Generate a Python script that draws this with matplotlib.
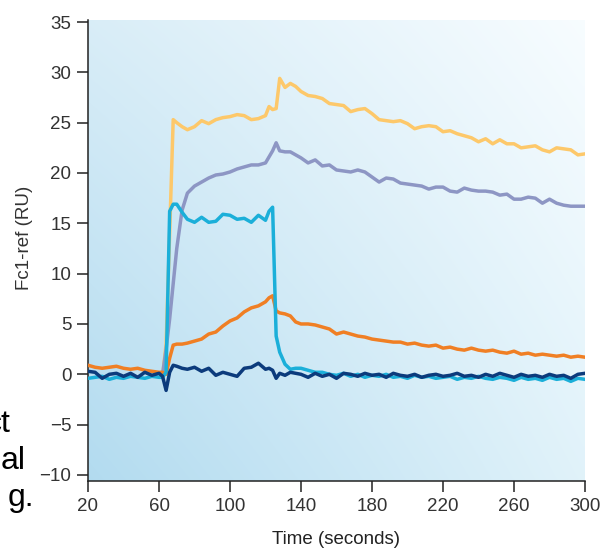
import numpy as np
import matplotlib.pyplot as plt

# time axis (seconds), shared by all curves
time_s = [20, 24, 28, 32, 36, 40, 44, 48, 52, 56, 60,
          62, 64, 66, 68, 70, 73, 76,
          80, 84, 88, 92, 96, 100, 104, 108, 112, 116, 120,
          122, 124, 126, 128, 131, 134, 137,
          140, 144, 148, 152, 156, 160, 164, 168, 172, 176,
          180, 184, 188, 192, 196, 200, 204, 208, 212, 216,
          220, 224, 228, 232, 236, 240, 244, 248, 252, 256,
          260, 264, 268, 272, 276, 280, 284, 288, 292, 296,
          300]

nan = np.nan
yellow_ru = [nan] * 11 + [
    -0.2, 3.0, 14.0, 25.3, 25.0, 24.6, 24.3,
    24.6, 25.2, 24.9, 25.3, 25.5, 25.6, 25.8, 25.7, 25.3, 25.4, 25.7,
    26.6, 26.3, 26.4, 29.4, 28.5, 28.9, 28.6,
    28.1, 27.7, 27.6, 27.4, 26.9, 26.8, 26.7, 26.1, 26.3, 26.4,
    25.9, 25.3, 25.2, 25.1, 25.2, 24.9, 24.4, 24.6, 24.7, 24.6,
    24.1, 24.2, 23.9, 23.7, 23.5, 23.1, 23.4, 22.9, 23.3, 22.9,
    22.9, 22.5, 22.6, 22.7, 22.3, 22.1, 22.5, 22.4, 22.3, 21.8,
    21.9]

lavender_ru = [nan] * 11 + [
    0.0, 2.5, 5.5, 9.0, 12.5, 16.3, 18.0,
    18.7, 19.1, 19.5, 19.8, 19.9, 20.1, 20.4, 20.6, 20.8, 20.8, 21.0,
    21.6, 22.2, 23.0, 22.2, 22.1, 22.1, 21.8,
    21.5, 21.0, 21.3, 20.7, 20.8, 20.3, 20.2, 20.1, 20.3, 20.1,
    19.6, 19.1, 19.5, 19.4, 19.0, 18.9, 18.8, 18.7, 18.4, 18.6,
    18.6, 18.2, 18.1, 18.5, 18.3, 18.2, 18.2, 18.1, 17.8, 17.9,
    17.4, 17.4, 17.6, 17.5, 17.0, 17.4, 17.0, 16.8, 16.7, 16.7,
    16.7]

orange_ru = [
    0.9, 0.7, 0.6, 0.7, 0.8, 0.6, 0.5, 0.6, 0.4, 0.3, 0.2,
    0.2, 0.0, 1.6, 2.9, 3.0, 3.0, 3.1,
    3.3, 3.5, 4.0, 4.2, 4.8, 5.3, 5.6, 6.2, 6.6, 6.8, 7.2,
    7.6, 7.8, 6.3, 6.1, 6.0, 5.8, 5.2,
    5.0, 5.0, 4.9, 4.7, 4.5, 4.0, 4.2, 4.0, 3.8, 3.7,
    3.5, 3.4, 3.3, 3.2, 3.2, 3.0, 3.1, 2.9, 2.8, 2.9,
    2.6, 2.7, 2.5, 2.4, 2.6, 2.4, 2.3, 2.4, 2.2, 2.1,
    2.3, 2.0, 2.1, 1.9, 2.0, 1.9, 1.8, 1.9, 1.7, 1.8,
    1.7]

cyan_ru = [
    -0.4, -0.3, -0.2, -0.5, -0.3, -0.4, -0.2, -0.3, -0.4, -0.2, -0.3,
    -0.3, 0.2, 16.2, 16.9, 16.9, 16.1, 15.4,
    15.1, 15.6, 15.1, 15.2, 15.9, 15.8, 15.4, 15.5, 15.1, 15.8, 15.3,
    16.2, 16.6, 3.8, 2.2, 1.0, 0.5, 0.6,
    0.6, 0.4, 0.2, 0.2, 0.0, -0.1, 0.1, -0.2, 0.0, -0.3,
    -0.1, -0.2, 0.0, -0.3, -0.2, -0.4, -0.1, -0.3, -0.2, -0.4,
    -0.3, -0.2, -0.5, -0.3, -0.4, -0.2, -0.4, -0.5, -0.3, -0.4,
    -0.6, -0.3, -0.5, -0.4, -0.6, -0.3, -0.5, -0.4, -0.7, -0.4,
    -0.5]

navy_ru = [
    0.3, 0.2, -0.4, 0.0, 0.1, -0.2, 0.1, -0.3, 0.2, -0.1, 0.1,
    -0.2, -1.6, 0.2, 0.9, 0.8, 0.6, 0.5,
    0.7, 0.3, 0.6, -0.1, 0.2, 0.0, -0.2, 0.6, 0.7, 1.1, 0.5,
    0.6, 0.4, -0.4, 0.1, -0.1, 0.2, 0.1,
    0.0, -0.3, 0.1, -0.2, 0.0, -0.4, 0.1, 0.0, -0.2, 0.1,
    -0.1, 0.0, -0.3, 0.1, -0.1, -0.2, 0.0, -0.3, -0.1, 0.0,
    -0.2, -0.1, 0.1, -0.2, -0.1, -0.3, 0.0, -0.2, 0.1, -0.1,
    -0.3, 0.0, -0.2, -0.1, -0.3, 0.0, -0.2, -0.1, -0.4, 0.0,
    0.1]

x_ticks = [20, 60, 100, 140, 180, 220, 260, 300]
y_ticks = [-10, -5, 0, 5, 10, 15, 20, 25, 30, 35]

plt.rcParams['font.family'] = ['Liberation Sans', 'DejaVu Sans']

fig = plt.figure(figsize=(6.13, 5.49), dpi=100)
ax = fig.add_axes([88 / 613, 1 - 481 / 549, 497 / 613, 461 / 549])

# soft blue background, darker at bottom-left, almost white at top-right
n = 200
u = np.linspace(0, 1, n)[None, :]
v = np.linspace(0, 1, n)[:, None]
c_bl = np.array([0.70, 0.86, 0.94])
c_br = np.array([0.88, 0.95, 0.98])
c_tl = np.array([0.85, 0.93, 0.97])
c_tr = np.array([0.97, 0.99, 1.00])
grad = ((1 - u) * (1 - v))[..., None] * c_bl + (u * (1 - v))[..., None] * c_br \
    + ((1 - u) * v)[..., None] * c_tl + (u * v)[..., None] * c_tr
ax.imshow(grad, extent=[0, 1, 0, 1], origin='lower', aspect='auto',
          transform=ax.transAxes, zorder=0, interpolation='bilinear')

lw = 2.5
ax.plot(time_s, yellow_ru, color='#fdc86a', lw=lw, zorder=2)
ax.plot(time_s, lavender_ru, color='#8d96c4', lw=lw, zorder=2)
ax.plot(time_s, orange_ru, color='#f07f24', lw=lw, zorder=3)
ax.plot(time_s, cyan_ru, color='#1bafd9', lw=lw, zorder=4)
ax.plot(time_s, navy_ru, color='#0c3b7c', lw=lw, zorder=5)

ax.set_xlim(20, 300)
ax.set_ylim(-10.6, 35.2)
ax.set_xticks(x_ticks)
ax.set_yticks(y_ticks)
ax.set_yticklabels([str(v).replace('-', '\u2212') for v in y_ticks])

for side in ['top', 'right']:
    ax.spines[side].set_visible(False)
for side in ['left', 'bottom']:
    ax.spines[side].set_linewidth(1.1)
    ax.spines[side].set_color('#222222')

ax.tick_params(direction='out', length=8, width=1.1, color='#222222',
               labelsize=13.5, labelcolor='#333333', pad=4)

ax.set_xlabel('Time (seconds)', fontsize=13.5, color='#222222')
ax.xaxis.set_label_coords(0.5, -0.108)
ax.set_ylabel('Fc1-ref (RU)', fontsize=13.5, color='#333333')
ax.yaxis.set_label_coords(-0.111, 0.527)

# clipped words of the neighbouring page text at the left edge
fig.text(11 / 613, 1 - 432 / 549, 'ct', fontsize=23, ha='right', va='baseline')
fig.text(26 / 613, 1 - 469 / 549, 'al', fontsize=23, ha='right', va='baseline')
fig.text(34 / 613, 1 - 506 / 549, 'g.', fontsize=23, ha='right', va='baseline')

fig.savefig('out.png', dpi=100)
